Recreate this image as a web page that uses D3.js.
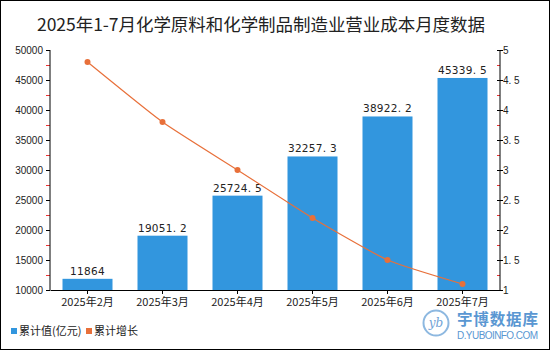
<!DOCTYPE html>
<html><head><meta charset="utf-8">
<script src="https://cdn.jsdelivr.net/npm/d3@7"></script>
<style>body{margin:0;background:#fff}svg{display:block}</style>
</head><body>
<script>
const categories = ["2025年2月","2025年3月","2025年4月","2025年5月","2025年6月","2025年7月"];
const cumValue = [11864, 19051.2, 25724.5, 32257.3, 38922.2, 45339.5];
const cumGrowth = [4.8, 3.8, 3.0, 2.2, 1.5, 1.1];
const leftTicks = [10000,15000,20000,25000,30000,35000,40000,45000,50000];
const rightTicks = [1,1.5,2,2.5,3,3.5,4,4.5,5];
const title = "2025年1-7月化学原料和化学制品制造业营业成本月度数据";
const legendLabels = ["累计值(亿元)","累计增长"];

const W=550,H=350;
const svg=d3.select("body").append("svg").attr("width",W).attr("height",H);
svg.append("rect").attr("x",0.5).attr("y",0.5).attr("width",W-1).attr("height",H-1).attr("fill","#fff").attr("stroke","#000");
const font="'Noto Sans CJK SC', 'Liberation Sans', sans-serif";

svg.append("text").attr("x",261).attr("y",31).attr("text-anchor","middle")
  .attr("font-family",font).attr("font-size",17.5).attr("fill","#222").attr("textLength",448).text(title);

const x=d3.scaleBand().domain(categories).range([50,500]).paddingInner(1/3).paddingOuter(1/6);
const yL=d3.scaleLinear().domain([10000,50000]).range([290,50]);
const yR=d3.scaleLinear().domain([1,5]).range([290,50]);

// minor ticks
const minorL=d3.range(12500,50000,5000);
svg.append("g").selectAll("line").data(minorL).join("line")
  .attr("x1",46).attr("x2",50).attr("y1",d=>yL(d)+0.5).attr("y2",d=>yL(d)+0.5).attr("stroke","#e33");
const minorR=d3.range(1.25,5,0.5);
svg.append("g").selectAll("line").data(minorR).join("line")
  .attr("x1",497).attr("x2",500).attr("y1",d=>yR(d)+0.5).attr("y2",d=>yR(d)+0.5).attr("stroke","#e33");

// bars
svg.append("g").selectAll("rect").data(cumValue).join("rect")
  .attr("x",(d,i)=>x(categories[i])).attr("width",x.bandwidth())
  .attr("y",d=>yL(d)).attr("height",d=>yL(10000)-yL(d)).attr("fill","#3296DE");
svg.append("g").selectAll("text").data(cumValue).join("text")
  .attr("x",(d,i)=>x(categories[i])+x.bandwidth()/2).attr("y",d=>yL(d)-4)
  .attr("text-anchor","middle").attr("font-family","'DejaVu Sans', sans-serif").attr("font-size",10.5).attr("fill","#222")
  .attr("letter-spacing","0.3")
  .text(d=>String(d).replace(".", ". "));

// axes
const gL=svg.append("g").attr("transform","translate(50,0)")
  .call(d3.axisLeft(yL).tickValues(leftTicks).tickSize(4).tickFormat(d3.format("d")));
const gR=svg.append("g").attr("transform","translate(500,0)")
  .call(d3.axisRight(yR).tickValues(rightTicks).tickSize(0).tickPadding(3).tickFormat(d=>String(d).replace(".",". ")));
gR.selectAll(".tick").append("line").attr("x1",-3).attr("x2",3).attr("stroke","#000");
const gX=svg.append("g").attr("transform","translate(0,290)")
  .call(d3.axisBottom(x).tickSize(4).tickSizeOuter(0));
[gL,gR,gX].forEach(g=>{
  g.select(".domain").attr("stroke","#000");
  g.selectAll("text").attr("font-family","'Liberation Sans', 'Noto Sans CJK SC', sans-serif").attr("font-size",10).attr("fill","#222");
});
gL.select(".domain").attr("d","M0,50V290");
gR.select(".domain").attr("d","M0,50V290");
gX.selectAll("text").attr("font-family",font).attr("font-size",11).attr("dy","0.85em");

// line
const pts=cumGrowth.map((d,i)=>[x(categories[i])+x.bandwidth()/2,yR(d)]);
svg.append("path").attr("d",d3.line().curve(d3.curveCardinal.tension(0.5))(pts))
  .attr("fill","none").attr("stroke","#E8703A").attr("stroke-width",1.2);
svg.append("g").selectAll("circle").data(pts).join("circle")
  .attr("cx",d=>d[0]).attr("cy",d=>d[1]).attr("r",3).attr("fill","#E8703A");

// legend
const lg=svg.append("g").attr("font-family",font).attr("font-size",11).attr("fill","#222");
lg.append("rect").attr("x",11).attr("y",328).attr("width",6).attr("height",6).attr("fill","#3296DE");
lg.append("text").attr("x",19).attr("y",335).text(legendLabels[0]);
lg.append("rect").attr("x",86).attr("y",328).attr("width",6).attr("height",6).attr("fill","#E8703A");
lg.append("text").attr("x",94).attr("y",335).text(legendLabels[1]);

// watermark
const wm=svg.append("g");
wm.append("circle").attr("cx",436).attr("cy",323).attr("r",12.5).attr("fill","none").attr("stroke","#8DB8E0").attr("stroke-width",2);
wm.append("text").attr("x",436).attr("y",327).attr("text-anchor","middle").attr("font-family","'DejaVu Serif', serif").attr("font-style","italic").attr("font-size",12).attr("fill","#6FA2D6").text("yb");
wm.append("text").attr("x",457).attr("y",325).attr("font-family",font).attr("font-size",15.5).attr("font-weight","bold").attr("fill","#5A97D2").attr("textLength",81).text("宇博数据库");
wm.append("text").attr("x",457).attr("y",338.5).attr("font-family","'Liberation Sans', sans-serif").attr("font-size",10).attr("fill","#5A97D2").attr("textLength",81).text("D.YUBOINFO.COM");
</script>
</body></html>
